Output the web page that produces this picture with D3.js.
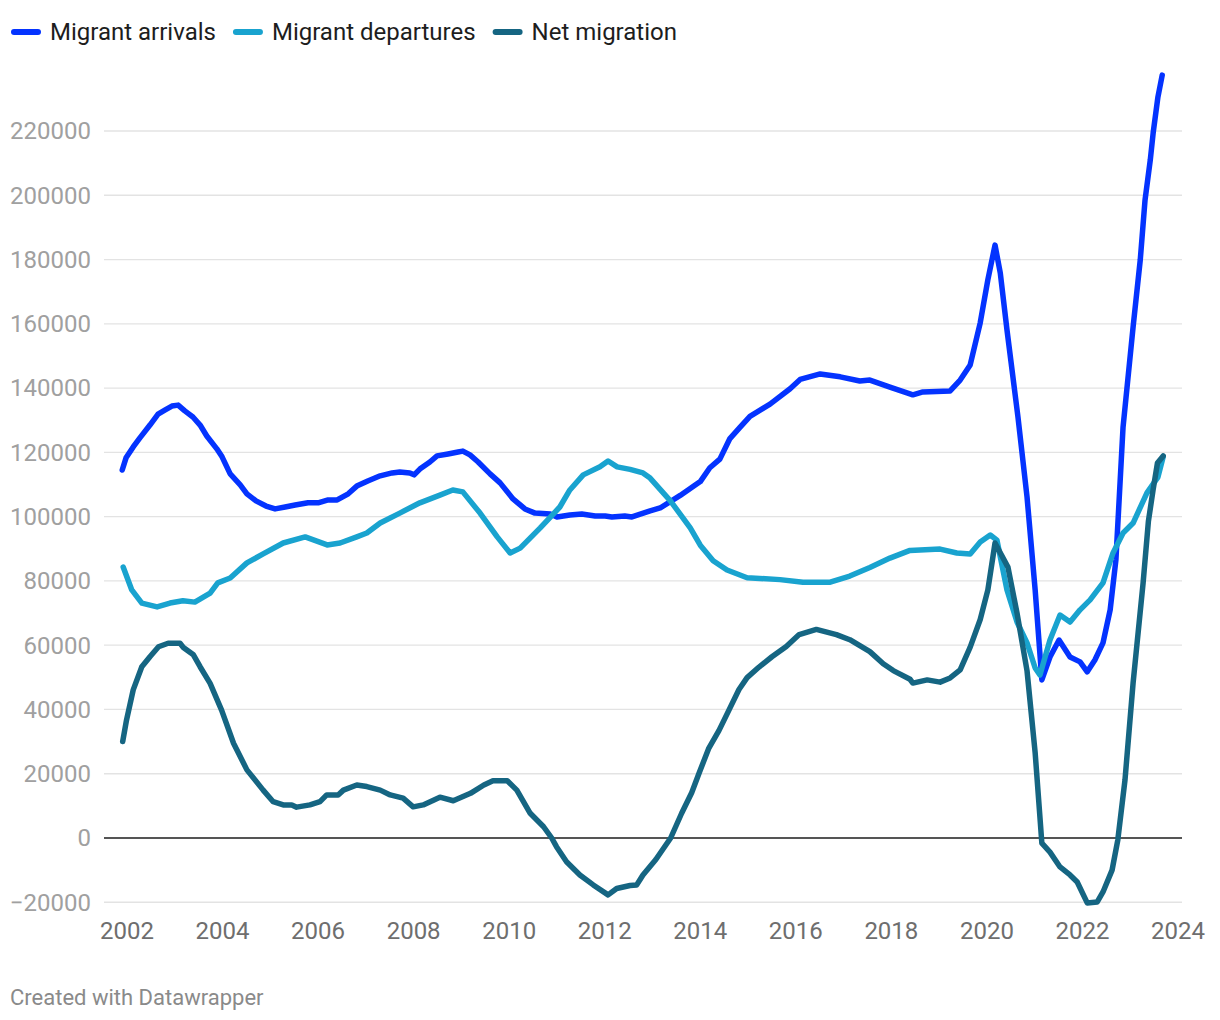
<!DOCTYPE html>
<html>
<head>
<meta charset="utf-8">
<script src="https://cdn.jsdelivr.net/npm/d3@7"></script>
<style>
  html, body { margin: 0; padding: 0; background: #fff; }
  svg { display: block; font-family: Roboto, "Noto Sans", sans-serif; }
</style>
</head>
<body>
<svg id="chart" width="1220" height="1020"></svg>
<script>
const seriesNames = ["Migrant arrivals", "Migrant departures", "Net migration"];
const seriesColors = ["#0433ff", "#19a3cf", "#156582"];

const arrivals = [[2001.90,114500],[2001.98,118300],[2002.13,121700],[2002.27,124500],[2002.48,128500],[2002.65,131900],[2002.80,133200],[2002.94,134400],[2003.07,134700],[2003.21,132900],[2003.38,131000],[2003.53,128500],[2003.67,125100],[2003.88,121100],[2003.99,118600],[2004.16,113300],[2004.37,109900],[2004.51,107100],[2004.70,104900],[2004.91,103300],[2005.10,102400],[2005.31,103000],[2005.52,103600],[2005.79,104300],[2006.00,104300],[2006.21,105200],[2006.40,105200],[2006.63,107100],[2006.81,109500],[2007.04,111100],[2007.30,112700],[2007.55,113600],[2007.71,113900],[2007.92,113600],[2008.01,113000],[2008.13,114800],[2008.34,117000],[2008.49,118900],[2008.72,119500],[2008.93,120100],[2009.03,120400],[2009.18,119200],[2009.35,117000],[2009.60,113300],[2009.81,110500],[2010.08,105500],[2010.33,102400],[2010.54,101100],[2010.86,100800],[2011.00,99900],[2011.27,100500],[2011.52,100800],[2011.80,100200],[2012.01,100200],[2012.15,99900],[2012.42,100200],[2012.57,99900],[2012.95,101800],[2013.16,102700],[2013.58,106600],[2014.00,110900],[2014.20,115200],[2014.41,117900],[2014.62,124300],[2014.83,127800],[2015.04,131200],[2015.46,135000],[2015.88,139800],[2016.09,142700],[2016.51,144400],[2016.93,143500],[2017.34,142200],[2017.55,142500],[2017.97,140300],[2018.45,137900],[2018.66,138800],[2019.23,139100],[2019.44,142500],[2019.65,147200],[2019.86,160300],[2020.02,173700],[2020.17,184500],[2020.28,175800],[2020.42,158100],[2020.65,131000],[2020.84,106100],[2021.01,77200],[2021.15,49200],[2021.32,56300],[2021.51,61600],[2021.74,56300],[2021.95,54800],[2022.10,51700],[2022.26,55400],[2022.43,60700],[2022.58,71000],[2022.70,86500],[2022.85,127900],[2023.06,159000],[2023.21,179900],[2023.31,198500],[2023.42,211000],[2023.48,219400],[2023.58,230600],[2023.67,237400]];

const departures = [[2001.92,84300],[2002.10,77200],[2002.31,73100],[2002.63,71900],[2002.90,73100],[2003.17,73800],[2003.42,73400],[2003.74,76200],[2003.90,79400],[2004.16,80900],[2004.51,85600],[2004.85,88400],[2005.27,91800],[2005.73,93700],[2006.19,91200],[2006.46,91800],[2006.81,93700],[2007.02,94900],[2007.30,98000],[2007.71,101100],[2008.13,104300],[2008.55,106700],[2008.82,108300],[2009.03,107700],[2009.39,101100],[2009.75,93700],[2010.02,88700],[2010.23,90200],[2010.65,96500],[2011.06,103000],[2011.27,108300],[2011.55,113000],[2011.90,115500],[2012.07,117300],[2012.26,115500],[2012.53,114700],[2012.80,113600],[2012.95,112000],[2013.37,105000],[2013.79,96500],[2014.00,91100],[2014.27,86300],[2014.56,83400],[2014.98,81000],[2015.67,80400],[2016.15,79600],[2016.72,79600],[2017.13,81500],[2017.55,84200],[2017.97,87100],[2018.39,89500],[2018.60,89600],[2019.02,89900],[2019.37,88700],[2019.65,88400],[2019.86,92100],[2020.07,94300],[2020.21,92700],[2020.42,77200],[2020.63,67200],[2020.84,60700],[2021.01,52900],[2021.11,50700],[2021.32,61600],[2021.53,69400],[2021.74,67200],[2021.95,71000],[2022.16,74100],[2022.43,79400],[2022.64,88700],[2022.85,94900],[2023.06,98000],[2023.35,107400],[2023.58,112300],[2023.69,118600]];

const netMigration = [[2001.91,30000],[2001.99,36700],[2002.13,46100],[2002.31,53300],[2002.48,56400],[2002.66,59500],[2002.86,60600],[2003.11,60600],[2003.18,59300],[2003.39,57000],[2003.53,53300],[2003.74,48100],[2003.98,39800],[2004.23,29500],[2004.51,21200],[2004.85,14900],[2005.06,11300],[2005.27,10300],[2005.45,10300],[2005.55,9600],[2005.83,10300],[2006.04,11300],[2006.18,13400],[2006.42,13400],[2006.53,14900],[2006.81,16500],[2007.02,16000],[2007.30,14900],[2007.51,13400],[2007.78,12400],[2007.99,9700],[2008.20,10300],[2008.55,12700],[2008.83,11600],[2009.19,13900],[2009.47,16500],[2009.66,17800],[2009.96,17800],[2010.16,14900],[2010.44,7700],[2010.72,3500],[2010.89,0],[2010.99,-2700],[2011.20,-7400],[2011.48,-11500],[2011.76,-14600],[2012.07,-17700],[2012.25,-15700],[2012.53,-14800],[2012.67,-14600],[2012.80,-11500],[2013.07,-6700],[2013.38,0],[2013.61,7700],[2013.82,14100],[2013.97,20000],[2014.18,28000],[2014.39,33400],[2014.60,39800],[2014.81,46200],[2014.98,49900],[2015.23,53200],[2015.50,56400],[2015.80,59600],[2016.07,63300],[2016.43,64900],[2016.85,63300],[2017.13,61700],[2017.55,58000],[2017.83,54200],[2018.04,52100],[2018.39,49400],[2018.45,48200],[2018.75,49200],[2019.02,48500],[2019.23,49800],[2019.44,52300],[2019.65,59400],[2019.86,68000],[2020.02,77200],[2020.17,91800],[2020.44,84300],[2020.63,70000],[2020.84,52000],[2021.01,26500],[2021.11,6500],[2021.15,-1600],[2021.32,-4400],[2021.53,-9000],[2021.74,-11500],[2021.89,-13700],[2022.10,-20200],[2022.31,-19900],[2022.43,-16800],[2022.62,-10000],[2022.74,-600],[2022.89,18000],[2023.06,48200],[2023.27,79400],[2023.38,98500],[2023.48,108500],[2023.57,116700],[2023.69,118900]];

const yTicks = [-20000, 0, 20000, 40000, 60000, 80000, 100000, 120000, 140000, 160000, 180000, 200000, 220000];
const xTicks = [2002, 2004, 2006, 2008, 2010, 2012, 2014, 2016, 2018, 2020, 2022, 2024];
const footerText = "Created with Datawrapper";

const svg = d3.select("#chart");
const x = d3.scaleLinear().domain([2002, 2024]).range([127, 1178]);
const y = d3.scaleLinear().domain([0, 220000]).range([838, 131]);
const gridLeft = 104, gridRight = 1182;

// Gridlines & y labels
const yAxis = svg.append("g");
yAxis.selectAll("line").data(yTicks).join("line")
  .attr("x1", gridLeft).attr("x2", gridRight)
  .attr("y1", d => y(d)).attr("y2", d => y(d))
  .attr("stroke", d => d === 0 ? "#1d1d1d" : "#e3e3e3")
  .attr("stroke-width", d => d === 0 ? 1.6 : 1.3);
yAxis.selectAll("text").data(yTicks).join("text")
  .attr("x", 91).attr("y", d => y(d))
  .attr("dy", "0.35em")
  .attr("text-anchor", "end")
  .attr("fill", "#a0a0a0")
  .style("font-size", "24px")
  .text(d => d < 0 ? "\u2212" + Math.abs(d) : String(d));

// X labels
const xAxis = svg.append("g");
xAxis.selectAll("text").data(xTicks).join("text")
  .attr("x", d => x(d)).attr("y", 939)
  .attr("text-anchor", "middle")
  .attr("fill", "#6e6e6e")
  .style("font-size", "24px")
  .text(d => d);

// Lines
const line = d3.line().x(d => x(d[0])).y(d => y(d[1])).curve(d3.curveLinear);
const allSeries = [arrivals, departures, netMigration];
svg.append("g").selectAll("path").data(allSeries).join("path")
  .attr("d", d => line(d))
  .attr("fill", "none")
  .attr("stroke", (d, i) => seriesColors[i])
  .attr("stroke-width", 5.5)
  .attr("stroke-linejoin", "round")
  .attr("stroke-linecap", "round");

// Legend
const legend = svg.append("g");
let lx = 12;
seriesNames.forEach((name, i) => {
  legend.append("line")
    .attr("x1", lx + 2).attr("x2", lx + 26)
    .attr("y1", 32).attr("y2", 32)
    .attr("stroke", seriesColors[i])
    .attr("stroke-width", 6)
    .attr("stroke-linecap", "round");
  const t = legend.append("text")
    .attr("x", lx + 38).attr("y", 40)
    .attr("fill", "#1d1d1d")
    .style("font-size", "24px")
    .text(name);
  lx += 38 + t.node().getComputedTextLength() + 18;
});

// Footer
svg.append("text")
  .attr("x", 10).attr("y", 1005)
  .attr("fill", "#8a8a8a")
  .style("font-size", "22px")
  .text(footerText);
</script>
</body>
</html>
